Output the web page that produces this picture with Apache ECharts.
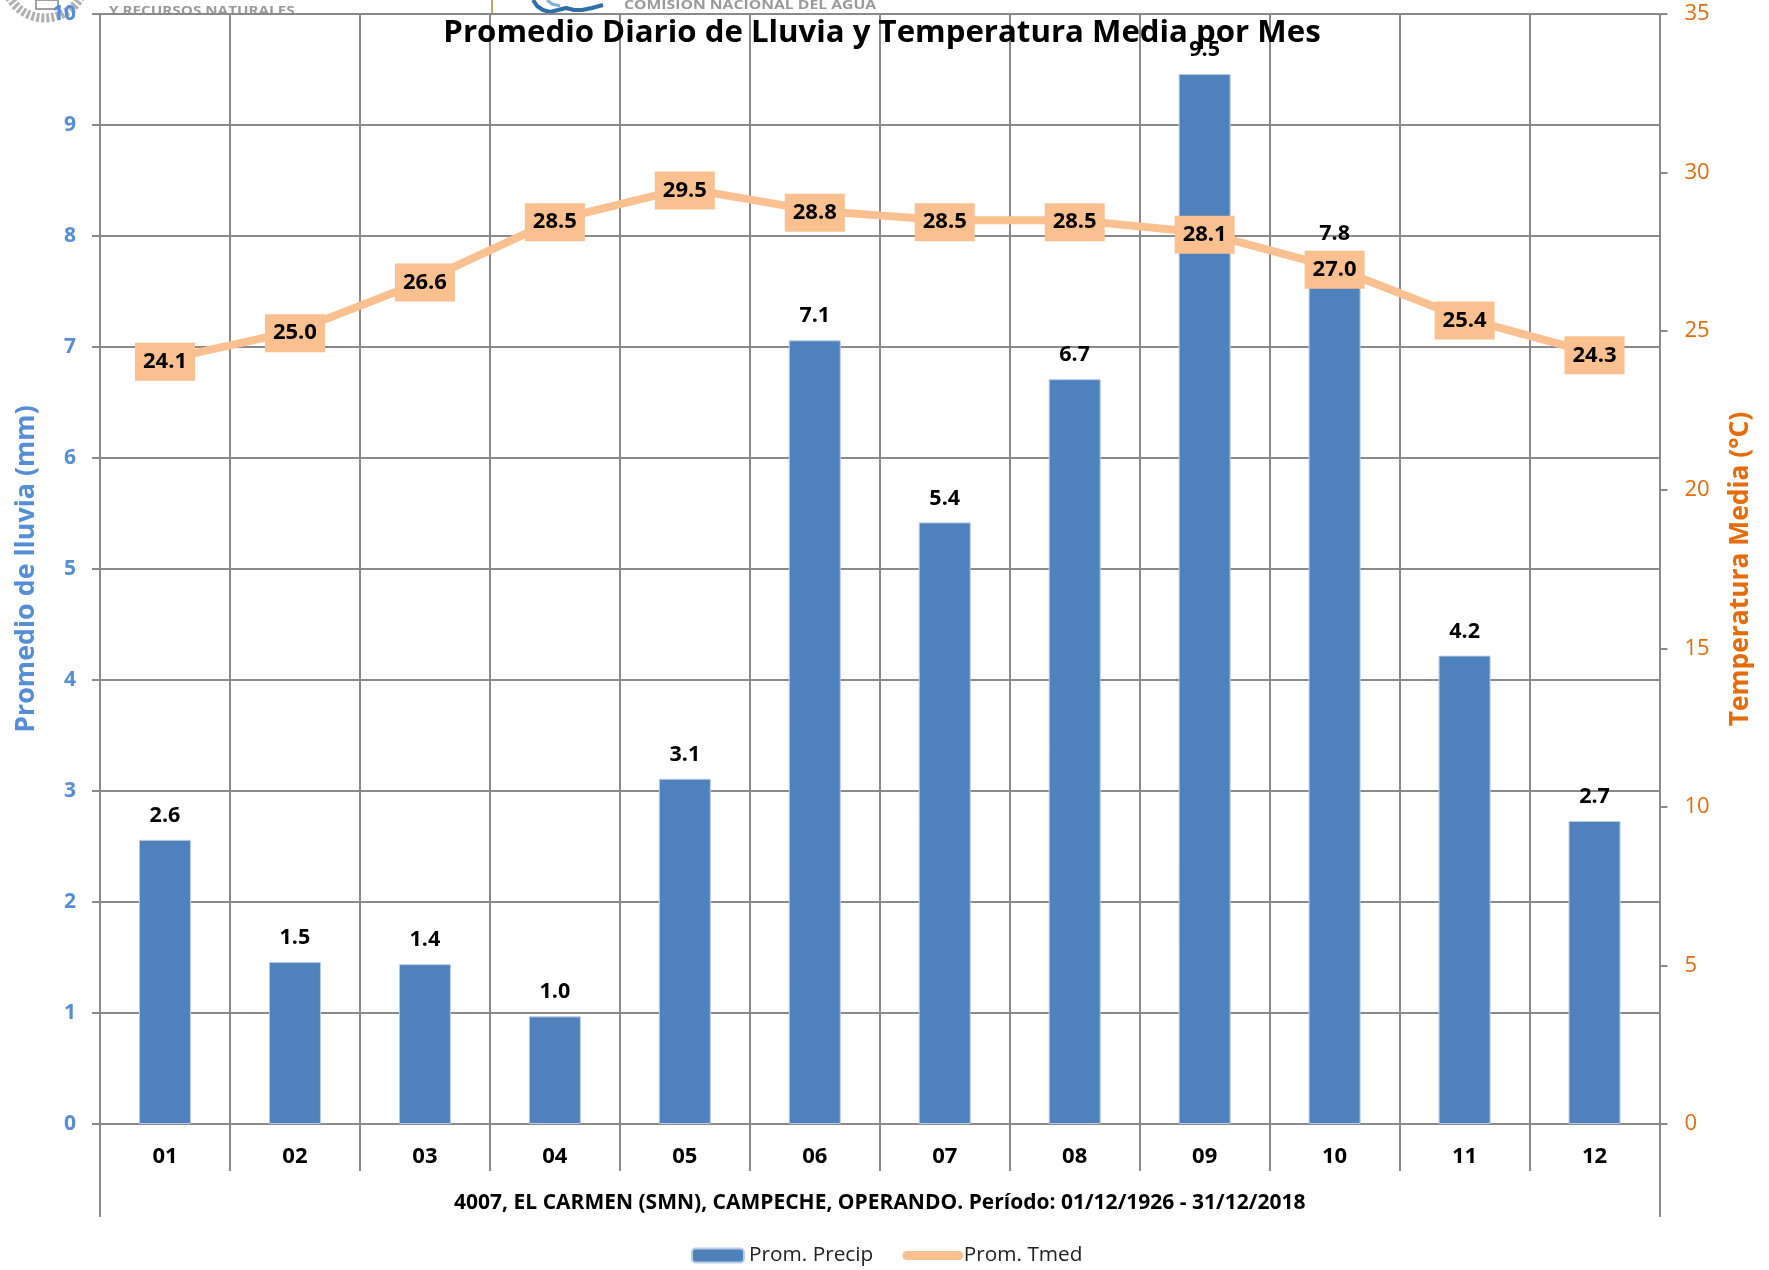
<!DOCTYPE html>
<html><head><meta charset="utf-8">
<style>html,body{margin:0;padding:0;background:#fff}#c{width:1769px;height:1270px}</style>
<script src="https://cdn.jsdelivr.net/npm/echarts@6/dist/echarts.min.js"></script>
</head><body><div id="c"></div>
<script>
const months = ['01','02','03','04','05','06','07','08','09','10','11','12'];
const precip = [2.56,1.46,1.44,0.97,3.11,7.06,5.42,6.71,9.46,7.80,4.22,2.73];
const tmed = [24.1,25.0,26.6,28.5,29.5,28.8,28.5,28.5,28.1,27.0,25.4,24.3];
const stationLine = ['4007, EL CARMEN (SMN), CAMPECHE, OPERANDO. Período: 01/12/1926 - 31/12/2018'];
const titleText = 'Promedio Diario de Lluvia y Temperatura Media por Mes';
const precipName = 'Prom. Precip', tmedName = 'Prom. Tmed';
const FONT = '"Open Sans", sans-serif';
const GRAY = '#8a8a8a';
const chart = echarts.init(document.getElementById('c'), null, {renderer:'canvas'});
const gray = {color:GRAY, width:2};
const logoText = (text,x,y,sx)=>({type:'text',z:-2,silent:true,x:x,y:y,scaleX:sx,
  style:{text:text,x:0,y:0,fill:'#9a9a9a',font:'bold 12px "Open Sans"'}});
chart.setOption({
  animation:false,
  backgroundColor:'#fff',
  textStyle:{fontFamily:FONT},
  title:{text:titleText,left:877,textAlign:'center',top:13,z:20,
    textStyle:{fontFamily:FONT,fontSize:31.2,fontWeight:'bold',color:'#000'}},
  grid:{left:100,right:109.5,top:14,bottom:146,containLabel:false},
  legend:{left:686,top:1240,itemGap:29,itemWidth:52,itemHeight:14,
    textStyle:{fontFamily:FONT,fontSize:20.8,color:'#222'},
    data:[{name:precipName},
      {name:tmedName,itemStyle:{opacity:0},lineStyle:{width:9,cap:'round',color:'#FAC090'}}]},
  xAxis:[{
    type:'category',data:months,position:'bottom',
    axisLine:{lineStyle:gray},
    axisTick:{show:true,length:47,lineStyle:gray,alignWithLabel:false},
    axisLabel:{margin:22,fontFamily:FONT,fontSize:22,fontWeight:'bold',color:'#000'},
    splitLine:{show:true,lineStyle:gray}
  },{
    type:'category',data:stationLine,position:'bottom',
    axisLine:{show:false},
    axisTick:{show:true,length:93,lineStyle:gray},
    axisLabel:{margin:69,fontFamily:FONT,fontSize:21,fontWeight:'bold',color:'#000'},
    splitLine:{show:false}
  }],
  yAxis:[{
    type:'value',min:0,max:10,interval:1,position:'left',
    name:'Promedio de lluvia (mm)',nameLocation:'middle',nameGap:60,nameRotate:90,
    nameTextStyle:{fontFamily:FONT,fontSize:26.8,fontWeight:'bold',color:'#558ED5'},
    axisLine:{show:true,lineStyle:gray},
    axisTick:{show:true,length:8,lineStyle:gray},
    axisLabel:{margin:24,fontFamily:FONT,fontSize:21,fontWeight:'bold',color:'#558ED5'},
    splitLine:{show:true,lineStyle:gray}
  },{
    type:'value',min:0,max:35,interval:5,position:'right',
    name:'Temperatura Media (°C)',nameLocation:'middle',nameGap:68,nameRotate:90,
    nameTextStyle:{fontFamily:FONT,fontSize:26.4,fontWeight:'bold',color:'#E46C0A'},
    axisLine:{show:true,lineStyle:gray},
    axisTick:{show:true,length:8,lineStyle:gray},
    axisLabel:{margin:25,fontFamily:FONT,fontSize:22,color:'#E46C0A'},
    splitLine:{show:false}
  }],
  series:[{
    name:precipName,type:'bar',xAxisIndex:0,yAxisIndex:0,data:precip,barWidth:52,z:3,
    itemStyle:{color:'#4F81BD',borderColor:'#B9CDE5',borderWidth:1},
    label:{show:true,position:'top',distance:13,fontFamily:FONT,fontSize:21.5,fontWeight:'bold',color:'#000',
      formatter:p=>p.value.toFixed(1)}
  },{
    name:tmedName,type:'line',xAxisIndex:0,yAxisIndex:1,data:tmed,z:5,
    symbol:'circle',symbolSize:2,showSymbol:true,
    lineStyle:{color:'#FAC090',width:8},itemStyle:{color:'#FAC090'},
    label:{show:true,position:'inside',offset:[0,2],fontFamily:FONT,fontSize:22,fontWeight:'bold',color:'#000',
      backgroundColor:'#FAC090',padding:[8,8,8,8],
      formatter:p=>p.value.toFixed(1)}
  }],
  graphic:[
    logoText('SECRETARÍA DE MEDIO AMBIENTE',109,-10,1.22),
    logoText('Y RECURSOS NATURALES',109,6,1.27),
    logoText('COMISIÓN NACIONAL DEL AGUA',624,0,1.31),
    {type:'rect',z:-2,silent:true,shape:{x:491,y:0,width:2,height:14},style:{fill:'#c9a85c'}},
    {type:'polyline',z:-2,silent:true,shape:{points:[[533,0],[537,6],[543,10],[550,12],[558,10],[566,8],[574,10],[582,10],[592,8],[603,5]]},style:{stroke:'#2f6fa8',lineWidth:4,lineJoin:'round',fill:'none'}},
    {type:'polyline',z:-2,silent:true,shape:{points:[[547,0],[552,4],[560,6]]},style:{stroke:'#7fb0d5',lineWidth:3,lineJoin:'round',fill:'none'}},
    {type:'circle',z:-2,silent:true,shape:{cx:45,cy:-23,r:41},style:{fill:'none',stroke:'#b0b0b0',lineWidth:9,lineDash:[3,2]}},
    {type:'rect',z:-2,silent:true,shape:{x:36,y:0,width:22,height:9},style:{fill:'none',stroke:'#a0a0a0',lineWidth:2}},
    {type:'rect',z:-1,silent:true,shape:{x:100,y:14,width:1600,height:30},style:{fill:'#fff'}}
  ]
});
</script></body></html>
